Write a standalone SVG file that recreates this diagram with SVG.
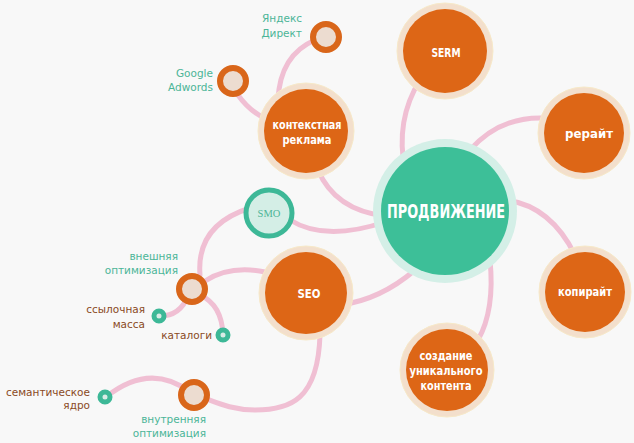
<svg xmlns="http://www.w3.org/2000/svg" width="634" height="443" viewBox="0 0 634 443">
<style>
.bg{fill:#f8f8f8}
.c{fill:none;stroke:#f0bfd3;stroke-width:5;stroke-linecap:round}
.halo{fill:#f3dfcc;stroke:#f7e9c9;stroke-width:1}
.or{fill:#dd6616}
.ring{fill:#ecdcd0;stroke:#d9661a;stroke-width:6}
.dot{fill:#d9ece6;stroke:#3db897;stroke-width:5}
.w{font-family:"DejaVu Sans","Liberation Sans",sans-serif;font-weight:bold;fill:#fff;text-anchor:middle}
.t{font-family:"DejaVu Sans","Liberation Sans",sans-serif;font-size:10.5px;fill:#4bb597;text-anchor:end}
.b{font-family:"DejaVu Sans","Liberation Sans",sans-serif;font-size:10.5px;fill:#8a4a1e;text-anchor:end}
</style>
<rect class="bg" width="634" height="443"/>
<g id="connectors">
<path class="c" d="M420 80 Q395 120 405 170"/>
<path class="c" d="M545 118 Q500 116 470 150"/>
<path class="c" d="M505 200 Q550 205 575 255"/>
<path class="c" d="M490 260 Q495 310 478 340"/>
<path class="c" d="M340 305 Q380 300 415 270"/>
<path class="c" d="M318 170 Q335 210 385 216"/>
<path class="c" d="M290 220 Q325 242 385 222"/>
<path class="c" d="M315 40 Q280 55 278 100"/>
<path class="c" d="M238 95 Q250 112 268 120"/>
<path class="c" d="M200 275 Q196 225 250 208"/>
<path class="c" d="M205 281 Q230 265 265 272"/>
<path class="c" d="M188 296 Q180 316 160 316"/>
<path class="c" d="M200 295 Q222 305 223 335"/>
<path class="c" d="M320 335 C318 400 290 410 255 410 C228 410 212 400 195 395"/>
<path class="c" d="M190 392 Q150 362 106 397"/>
</g>
<g id="center">
<circle cx="445" cy="211" r="72" fill="#d4efe7"/>
<circle cx="445" cy="211" r="64" fill="#3dbf98"/>
<text class="w" x="446" y="218" font-size="19" textLength="118" lengthAdjust="spacingAndGlyphs">ПРОДВИЖЕНИЕ</text>
</g>
<g id="serm">
<circle class="halo" cx="445" cy="51" r="48"/>
<circle class="or" cx="445" cy="51" r="42"/>
<text class="w" x="446" y="57" font-size="13" textLength="29" lengthAdjust="spacingAndGlyphs">SERM</text>
</g>
<g id="rerait">
<circle class="halo" cx="584" cy="133" r="46"/>
<circle class="or" cx="584" cy="133" r="40"/>
<text class="w" x="589" y="138" font-size="12.5" textLength="48" lengthAdjust="spacingAndGlyphs">рерайт</text>
</g>
<g id="kopirait">
<circle class="halo" cx="585" cy="292" r="46"/>
<circle class="or" cx="585" cy="292" r="40"/>
<text class="w" x="585" y="296" font-size="12.5" textLength="54" lengthAdjust="spacingAndGlyphs">копирайт</text>
</g>
<g id="sozdanie">
<circle class="halo" cx="447" cy="370" r="47"/>
<circle class="or" cx="447" cy="370" r="41"/>
<text class="w" x="446" y="360" font-size="12" textLength="53" lengthAdjust="spacingAndGlyphs">создание</text>
<text class="w" x="446" y="375" font-size="12" textLength="73" lengthAdjust="spacingAndGlyphs">уникального</text>
<text class="w" x="446" y="390" font-size="12" textLength="51" lengthAdjust="spacingAndGlyphs">контента</text>
</g>
<g id="seo">
<circle class="halo" cx="306" cy="293" r="47"/>
<circle class="or" cx="306" cy="293" r="41"/>
<text class="w" x="309" y="298" font-size="13" textLength="23" lengthAdjust="spacingAndGlyphs">SEO</text>
</g>
<g id="kontekst">
<circle class="halo" cx="306" cy="131" r="48"/>
<circle class="or" cx="306" cy="131" r="42"/>
<text class="w" x="307" y="129" font-size="12" textLength="69" lengthAdjust="spacingAndGlyphs">контекстная</text>
<text class="w" x="307" y="144" font-size="12" textLength="49" lengthAdjust="spacingAndGlyphs">реклама</text>
</g>
<g id="smo">
<circle cx="269" cy="213" r="23" fill="#d4eee6" stroke="#3db897" stroke-width="5"/>
<text x="269" y="217" font-family="'Liberation Serif',serif" font-size="10.5" fill="#4bb597" text-anchor="middle">SMO</text>
</g>
<g id="yandex">
<circle class="ring" cx="326" cy="37" r="13"/>
<text class="t" x="302" y="22">Яндекс</text>
<text class="t" x="302" y="37">Директ</text>
</g>
<g id="google">
<circle class="ring" cx="233" cy="81" r="13"/>
<text class="t" x="213" y="77">Google</text>
<text class="t" x="213" y="91">Adwords</text>
</g>
<g id="vneshnyaya">
<circle class="ring" cx="192" cy="289" r="13"/>
<text class="t" x="178" y="260">внешняя</text>
<text class="t" x="178" y="274">оптимизация</text>
</g>
<g id="ssylochnaya">
<circle class="dot" cx="159" cy="316" r="5"/>
<text class="b" x="145" y="313">ссылочная</text>
<text class="b" x="145" y="328">масса</text>
</g>
<g id="katalogi">
<circle class="dot" cx="223" cy="335" r="5"/>
<text class="b" x="212" y="339">каталоги</text>
</g>
<g id="vnutrennyaya">
<circle class="ring" cx="194" cy="395" r="13"/>
<text class="t" x="206" y="423">внутренняя</text>
<text class="t" x="206" y="437">оптимизация</text>
</g>
<g id="semantika">
<circle class="dot" cx="105" cy="397" r="5"/>
<text class="b" x="90" y="396">семантическое</text>
<text class="b" x="90" y="409">ядро</text>
</g>
</svg>
